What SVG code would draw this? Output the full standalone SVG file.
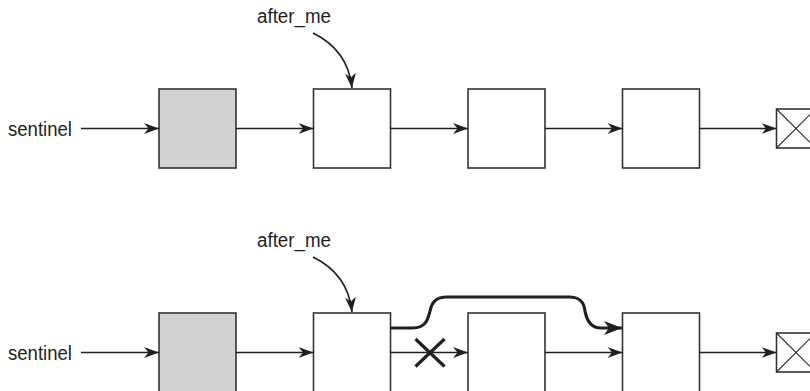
<svg xmlns="http://www.w3.org/2000/svg" width="810" height="391" viewBox="0 0 810 391">
<style>
.box{fill:#fff;stroke:#333;stroke-width:1.6}
.sent{fill:#d1d2d4}
.lbl{font-family:"Liberation Sans",Arial,sans-serif;font-size:20px;fill:#231f20}
.link{fill:none;stroke:#231f20;stroke-width:1.7}
.thick{fill:none;stroke:#231f20;stroke-width:3.2}
.nul{fill:none;stroke:#333;stroke-width:1.2}
</style>
<defs>
<marker id="ah" viewBox="0 0 15 11" refX="15" refY="5.5" markerWidth="15" markerHeight="11" markerUnits="userSpaceOnUse" orient="auto">
<path d="M0,0 L15,5.5 L0,11 L4.5,5.5 Z" fill="#231f20"/>
</marker>
<marker id="ahb" viewBox="0 0 18 14" refX="18" refY="7" markerWidth="18" markerHeight="14" markerUnits="userSpaceOnUse" orient="auto">
<path d="M0,0 L18,7 L0,14 L5,7 Z" fill="#231f20"/>
</marker>
</defs>

<g id="top-row">
<text id="t-sentinel" class="lbl" x="8" y="136" textLength="64" lengthAdjust="spacingAndGlyphs">sentinel</text>
<text id="t-afterme" class="lbl" x="257" y="23" textLength="74" lengthAdjust="spacingAndGlyphs">after_me</text>
<g id="t-n0"><rect class="box sent" x="159" y="89" width="77" height="79"/></g>
<g id="t-n1"><rect class="box" x="313.5" y="89" width="77" height="79"/></g>
<g id="t-n2"><rect class="box" x="468" y="89" width="77" height="79"/></g>
<g id="t-n3"><rect class="box" x="622.5" y="89" width="77" height="79"/></g>
<g id="t-null"><rect class="box" x="776.5" y="109" width="39" height="39"/><path class="nul" d="M776.5,109 L815.5,148 M776.5,148 L815.5,109"/></g>
</g>

<g id="bottom-row">
<text id="b-sentinel" class="lbl" x="8" y="360" textLength="64" lengthAdjust="spacingAndGlyphs">sentinel</text>
<text id="b-afterme" class="lbl" x="257" y="247" textLength="74" lengthAdjust="spacingAndGlyphs">after_me</text>
<g id="b-n0"><rect class="box sent" x="159" y="313" width="77" height="82"/></g>
<g id="b-n1"><rect class="box" x="313.5" y="313" width="77" height="82"/></g>
<g id="b-n2"><rect class="box" x="468" y="313" width="77" height="82"/></g>
<g id="b-n3"><rect class="box" x="622.5" y="313" width="77" height="82"/></g>
<g id="b-null"><rect class="box" x="776.5" y="333" width="39" height="39"/><path class="nul" d="M776.5,333 L815.5,372 M776.5,372 L815.5,333"/></g>
</g>

<g id="connectors">
<path class="link" d="M81,128.5 H159" marker-end="url(#ah)"/>
<path class="link" d="M236,128.5 H313.5" marker-end="url(#ah)"/>
<path class="link" d="M390.5,128.5 H468" marker-end="url(#ah)"/>
<path class="link" d="M545,128.5 H622.5" marker-end="url(#ah)"/>
<path class="link" d="M699.5,128.5 H776.5" marker-end="url(#ah)"/>
<path class="link" d="M313,33 Q348,50 352,88" marker-end="url(#ah)"/>

<path class="link" d="M81,352.5 H159" marker-end="url(#ah)"/>
<path class="link" d="M236,352.5 H313.5" marker-end="url(#ah)"/>
<path class="link" d="M390.5,352.5 H468" marker-end="url(#ah)"/>
<path class="link" d="M545,352.5 H622.5" marker-end="url(#ah)"/>
<path class="link" d="M699.5,352.5 H776.5" marker-end="url(#ah)"/>
<path class="link" d="M313,257 Q348,274 352,312" marker-end="url(#ah)"/>

<path class="thick" d="M390.5,328 H413 C425,328 428,320 430,311 C432,302 436,297 447,297 H569 C580,297 584,302 585,311 C587,322 592,328 601,328 H622" marker-end="url(#ahb)"/>
<path class="thick" d="M415.5,339 L444.5,366.5 M444.5,339 L415.5,366.5"/>
</g>
</svg>
